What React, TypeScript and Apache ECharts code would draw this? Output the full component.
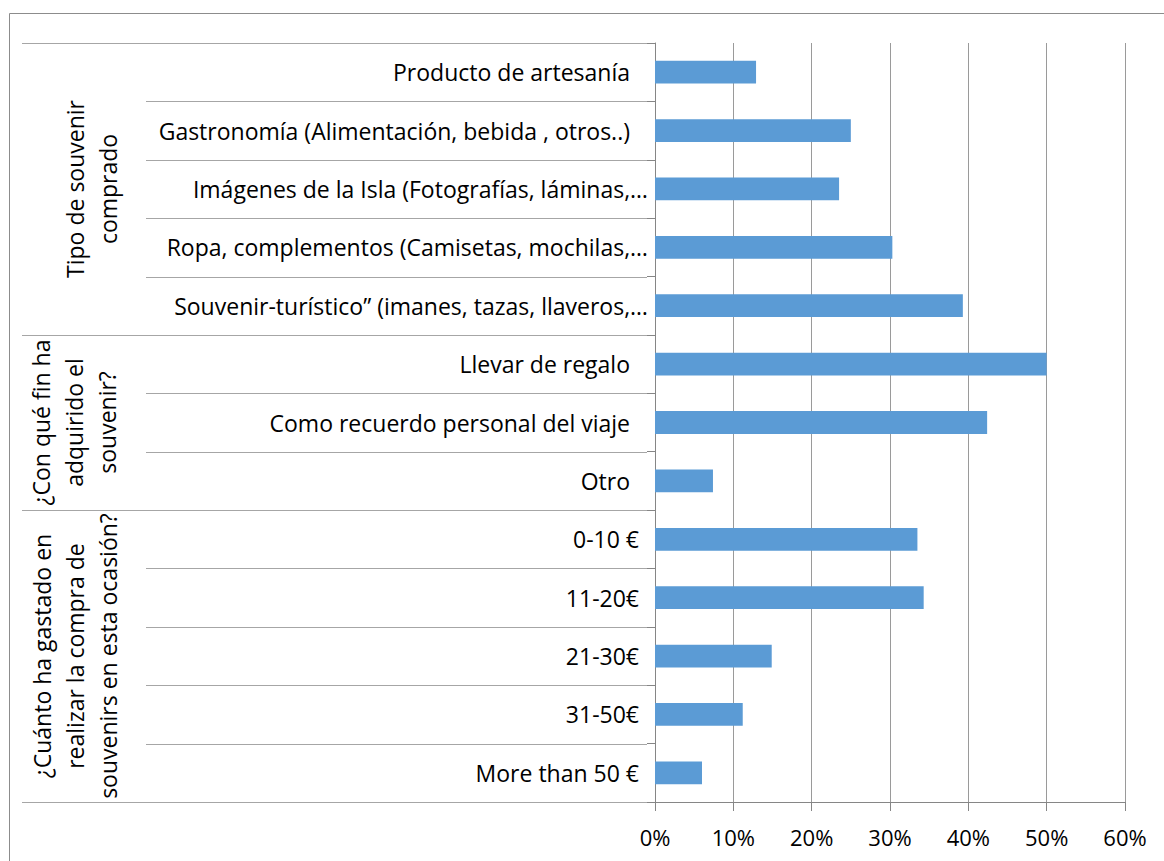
import { useEffect, useRef } from "react";
import * as echarts from "echarts";

// Survey answers, top to bottom
const categories = [
  "Producto de artesanía",
  "Gastronomía (Alimentación, bebida , otros..)",
  "Imágenes de la Isla (Fotografías, láminas,…",
  "Ropa, complementos (Camisetas, mochilas,…",
  "Souvenir-turístico” (imanes, tazas, llaveros,…",
  "Llevar de regalo",
  "Como recuerdo personal del viaje",
  "Otro",
  "0-10 €",
  "11-20€",
  "21-30€",
  "31-50€",
  "More than 50 €",
];

// Share of respondents (%)
const shares = [12.9, 25.0, 23.5, 30.3, 39.3, 50.0, 42.4, 7.4, 33.5, 34.3, 14.9, 11.2, 6.0];

// Question groups and how many answers each one holds
const groupTitles = [
  "Tipo de souvenir\ncomprado",
  "¿Con qué fin ha\nadquirido el\nsouvenir?",
  "¿Cuánto ha gastado en\nrealizar la compra de\nsouvenirs en esta ocasión?",
];
const groupSizes = [5, 3, 5];

// Percentage axis
const axisMin = 0;
const axisMax = 60;
const axisStep = 10;

const FONT = "'Open Sans', sans-serif";
const LABEL_SIZE = 23;
const TICK_SIZE = 22;
const SEP_COLOR = "#a6a6a6";
const AXIS_COLOR = "#868686";

// Right-hand gap of a category label: truncated labels run up to the axis
function labelStyleKey(label: string): string {
  if (label.endsWith("…")) return "full";
  if (label.includes("€")) return "cur";
  return "txt";
}

export default function App() {
  const ref = useRef<HTMLDivElement>(null);

  useEffect(() => {
    if (!ref.current) return;
    const chart = echarts.init(ref.current, null, { renderer: "svg" });

    const richBase = { fontFamily: FONT, fontSize: LABEL_SIZE, color: "#000" };

    chart.setOption({
      animation: false,
      backgroundColor: "#fff",
      grid: { left: 655, right: 39, top: 43, bottom: 59, containLabel: false },
      xAxis: {
        type: "value",
        min: axisMin,
        max: axisMax,
        interval: axisStep,
        axisLine: { show: true, lineStyle: { color: AXIS_COLOR, width: 1 } },
        axisTick: { show: true, length: 9, lineStyle: { color: AXIS_COLOR } },
        splitLine: { show: true, lineStyle: { color: "#9a9a9a", width: 1 } },
        axisLabel: {
          margin: 24,
          fontFamily: FONT,
          fontSize: TICK_SIZE,
          color: "#000",
          formatter: (v: number) => `${v}%`,
        },
      },
      yAxis: {
        type: "category",
        inverse: true,
        data: categories,
        boundaryGap: true,
        axisLine: { show: true, lineStyle: { color: AXIS_COLOR, width: 1 } },
        axisTick: { show: true, length: 8, lineStyle: { color: AXIS_COLOR } },
        splitLine: { show: false },
        axisLabel: {
          margin: 7,
          interval: 0,
          formatter: (v: string) => `{${labelStyleKey(v)}|${v}}`,
          rich: {
            full: { ...richBase, padding: [0, 0, 0, 0] },
            cur: { ...richBase, padding: [0, 9, 0, 0] },
            txt: { ...richBase, padding: [0, 18, 0, 0] },
          },
        },
      },
      series: [
        {
          type: "bar",
          data: shares,
          barCategoryGap: "61%",
          itemStyle: { color: "#5b9bd5" },
        },
      ],
    });

    // Separator lines and question titles, placed from the category scale
    const yAt = (i: number) => chart.convertToPixel({ yAxisIndex: 0 }, i) as number;
    const band = yAt(1) - yAt(0);
    const boundary = (k: number) => yAt(0) + (k - 0.5) * band;
    const axisX = chart.convertToPixel({ xAxisIndex: 0 }, axisMin) as number;

    const groupStarts: number[] = [];
    let acc = 0;
    groupSizes.forEach((n) => {
      groupStarts.push(acc);
      acc += n;
    });
    const groupEdges = new Set([...groupStarts, acc]);

    const graphics: any[] = [
      {
        type: "rect",
        silent: true,
        z: -10,
        shape: { x: 9.5, y: 13.5, width: 1160, height: 860 },
        style: { fill: "none", stroke: "#8c8c8c", lineWidth: 1 },
      },
    ];

    for (let k = 0; k <= categories.length; k++) {
      const y = Math.round(boundary(k)) + 0.5;
      graphics.push({
        type: "line",
        silent: true,
        shape: { x1: groupEdges.has(k) ? 22 : 146, y1: y, x2: axisX - 8, y2: y },
        style: { stroke: SEP_COLOR, lineWidth: 1 },
      });
    }

    const titleX = [91, 74, 75];
    groupTitles.forEach((title, g) => {
      const mid = (boundary(groupStarts[g]) + boundary(groupStarts[g] + groupSizes[g])) / 2;
      graphics.push({
        type: "text",
        silent: true,
        x: titleX[g],
        y: mid,
        rotation: Math.PI / 2,
        style: {
          text: title,
          fontFamily: FONT,
          fontSize: LABEL_SIZE,
          lineHeight: 33,
          fill: "#000",
          align: "center",
          verticalAlign: "middle",
        },
      });
    });

    chart.setOption({ graphic: graphics });

    return () => chart.dispose();
  }, []);

  return (
    <div
      ref={ref}
      style={{ position: "absolute", left: 0, top: 0, width: 1164, height: 861 }}
    />
  );
}
